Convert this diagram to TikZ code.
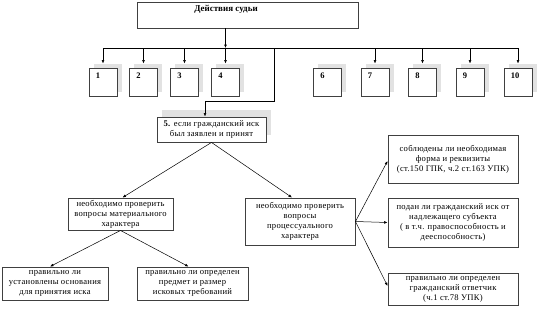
\documentclass[tikz,border=0pt]{standalone}
\usepackage{fontspec}
\setmainfont{Liberation Serif}
\newfontfamily\boxfont[LetterSpace=3]{Liberation Serif}
\usetikzlibrary{arrows.meta,shadows,calc}
\definecolor{shadowc}{HTML}{E2E2E2}
\definecolor{edgec}{HTML}{404040}
\tikzset{
  box/.style={draw=edgec, line width=0.9pt, fill=white, rectangle, inner sep=0pt, align=center,
    font=\boxfont\fontsize{8.6}{10}\selectfont},
  numbox/.style={box, minimum width=28pt, minimum height=28pt,
    drop shadow={shadow xshift=4.5pt, shadow yshift=4pt, fill=shadowc, opacity=1}},
  numtext/.style={anchor=north west, inner sep=0pt, font=\fontsize{8.5}{10}\bfseries\selectfont},
  arr/.style={-{Latex[length=3.5pt,width=2.8pt]}, line width=0.5pt, black},
  ln/.style={line width=0.6pt, black},
}
\begin{document}
\begin{tikzpicture}[x=1pt,y=-1pt]
\useasboundingbox (0,0) rectangle (545,327);
% top box
\node[box, minimum width=221pt, minimum height=26pt] (top) at (247.5,15) {};
\node[inner sep=0pt, font=\fontsize{9}{10}\bfseries\selectfont] (toptxt) at (226,9.5) {Действия судьи};
% number boxes
\foreach \n/\x in {1/103,2/143.5,3/184.5,4/225.5,6/327.5,7/375,8/422.5,9/470,10/518}{
  \node[numbox] (b\n) at (\x,82) {};
  \node[numtext] (t\n) at ([xshift=7pt,yshift=-5.5pt]b\n.north west) {\n};
}
% bus
\coordinate (busL) at (103,48);
\coordinate (busR) at (518,48);
\coordinate (busK) at (274,48);
\coordinate (kneeR) at (274,101);
\draw[ln] (busL) -- (busR);
\draw[arr] (b4.north |- top.south) -- (b4.north |- busL);
\foreach \n in {1,2,3,4,7,8,9,10}{
  \draw[arr] (b\n.north |- busL) -- ([yshift=4pt]b\n.north);
}
% box 5
\node[box, minimum width=109pt, minimum height=25pt,
  drop shadow={shadow xshift=5pt, shadow yshift=7pt, fill=shadowc, opacity=1}] (b5) at (211.5,129.5)
  {\textbf{5.} если гражданский иск\\был заявлен и принят};
\coordinate (kneeL) at (205,101);
\draw[ln, line width=0.4pt] (busK) -- (kneeR) -- (kneeL);
\draw[arr] (kneeL) -- (kneeL |- b5.north);
% middle boxes
\node[box, minimum width=105pt, minimum height=32pt] (mL) at (120.5,214)
  {необходимо проверить\\вопросы материального\\характера};
\node[box, minimum width=110pt, minimum height=47pt] (mR) at (300,221.5)
  {необходимо проверить\\вопросы\\процессуального\\характера};
\draw[arr] (b5.south) -- ([xshift=2pt]mL.north);
\draw[arr] (b5.south) -- ([xshift=-8pt]mR.north);
% bottom left boxes
\node[box, minimum width=106pt, minimum height=33pt] (bA) at (55,283.5)
  {правильно ли\\установлены основания\\для принятия иска};
\node[box, minimum width=111pt, minimum height=33pt] (bB) at (192.5,283.5)
  {правильно ли определен\\предмет и размер\\исковых требований};
\draw[arr] (mL.south) -- ([xshift=-5pt]bA.north);
\draw[arr] (mL.south) -- ([xshift=-4pt]bB.north);
% right boxes
\node[box, minimum width=130pt, minimum height=48pt] (r1) at (453,159)
  {соблюдены ли необходимая\\форма и реквизиты\\(ст.150 ГПК, ч.2 ст.163 УПК)};
\node[box, minimum width=130pt, minimum height=49pt] (r2) at (453,222.5)
  {подан ли гражданский иск от\\надлежащего субъекта\\( в т.ч. правоспособность и\\дееспособность)};
\node[box, minimum width=130pt, minimum height=32pt] (r3) at (453,289)
  {правильно ли определен\\гражданский ответчик\\(ч.1 ст.78 УПК)};
\draw[arr] (mR.east) -- ([yshift=-2pt]r1.west);
\draw[arr] (mR.east) -- (r2.west);
\draw[arr] (mR.east) -- ([yshift=3pt]r3.west);
\end{tikzpicture}
\end{document}
